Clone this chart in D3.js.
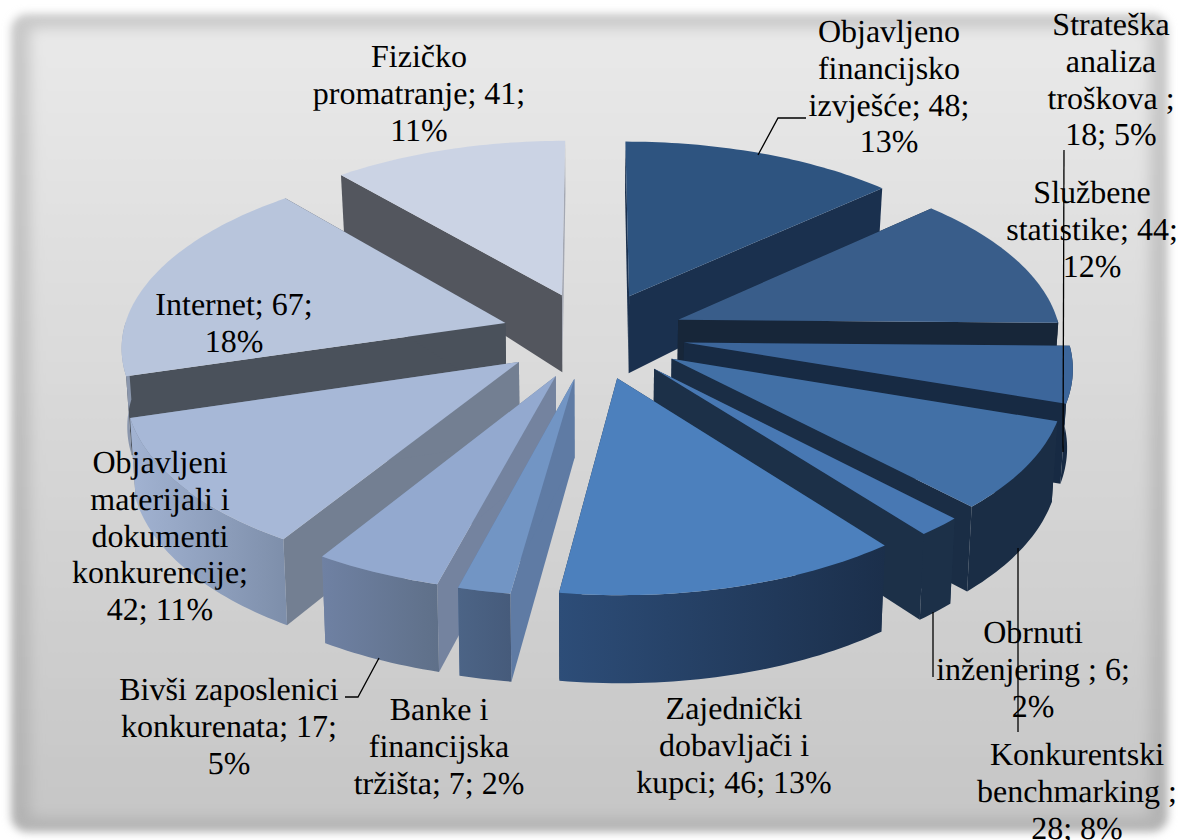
<!DOCTYPE html>
<html><head><meta charset="utf-8">
<script src="https://cdn.jsdelivr.net/npm/d3@7"></script>
<style>html,body{margin:0;padding:0;background:#fff}svg{display:block}</style></head>
<body><svg id="c" width="1180" height="840"></svg>
<script>
const categories = ["Objavljeno financijsko izvješće","Službene statistike","Strateška analiza troškova","Konkurentski benchmarking","Obrnuti inženjering","Zajednički dobavljači i kupci","Banke i financijska tržišta","Bivši zaposlenici konkurenata","Objavljeni materijali i dokumenti konkurencije","Internet","Fizičko promatranje"];
const values = [48,44,18,28,6,46,7,17,42,67,41];
const percents = [13,12,5,8,2,13,2,5,11,18,11];
const topColors = ["#2e5480","#395d8a","#3c669b","#4270a6","#4878b3","#4c80bd","#7295c4","#93a9cf","#a7b8d7","#b8c5dc","#cbd3e4"];
const sideColors = ["#1a304e","#172639","#172a43","#1a2d45","#1c3048","#1b304c","#5f7ba4","#74839f","#737f92","#4a515b","#53565e"];
const endColors = ["#1a304e","#172639","#172a43","#1a2d45","#1c3048","#1b304c","#5f7ba4","#74839f","#737f92","#4a515b","#a4a8b3"];
const wallLeft = ["#1a304e","#172639","#172a43","#1a2d45","#1c3048","#2d4d78","#4c6486","#6f81a3","#a2b3d2","#9aa6bc","#7b818e"];
const wallRight = ["#1a304e","#172639","#172a43","#1a2d45","#1c3048","#1b2f4b","#465b7b","#5f7089","#7e8fab","#8a96ac","#53565e"];
const labelLines = [
 ["Objavljeno","financijsko","izvješće; 48;","13%"],
 ["Službene","statistike; 44;","12%"],
 ["Strateška","analiza","troškova ;","18; 5%"],
 ["Konkurentski","benchmarking ;","28; 8%"],
 ["Obrnuti","inženjering ; 6;","2%"],
 ["Zajednički","dobavljači i","kupci; 46; 13%"],
 ["Banke i","financijska","tržišta; 7; 2%"],
 ["Bivši zaposlenici","konkurenata; 17;","5%"],
 ["Objavljeni","materijali i","dokumenti","konkurencije;","42; 11%"],
 ["Internet; 67;","18%"],
 ["Fizičko","promatranje; 41;","11%"]
];
// label anchors (centre x, first baseline y)
const labelX = [889,1092,1111,1077,1033,734,439,229,160,234,419];
const labelY = [42,203,35,765,643,719,720,700,473,315,67];
const leaders = [
 [[758,155],[778,118],[806,118]],
 [[1064,150],[1063,452]],
 [[1018,548],[1018,732]],
 [[933,612],[933,677]],
 [[379,658],[358,697],[345,697]]
];

const W=1180,H=840;
const svg=d3.select("#c");
const defs=svg.append("defs");
function vgrad(id,c0,c1){const g=defs.append("linearGradient").attr("id",id).attr("x1",0).attr("y1",0).attr("x2",0).attr("y2",1);
 g.append("stop").attr("offset",0).attr("stop-color",c0);g.append("stop").attr("offset",1).attr("stop-color",c1);}
vgrad("bg","#e9e9e9","#c6c6c6");
vgrad("bgo","#c9c9c9","#b3b3b3");
const f1=defs.append("filter").attr("id","b1").attr("x","-5%").attr("y","-5%").attr("width","110%").attr("height","110%");
f1.append("feGaussianBlur").attr("stdDeviation",4);
const f2=defs.append("filter").attr("id","b2").attr("x","-5%").attr("y","-5%").attr("width","110%").attr("height","110%");
f2.append("feGaussianBlur").attr("stdDeviation",7);
svg.append("rect").attr("x",11).attr("y",14).attr("width",1157).attr("height",818).attr("rx",16).attr("fill","url(#bgo)").attr("filter","url(#b1)");
svg.append("rect").attr("x",30).attr("y",28).attr("width",1120).attr("height",790).attr("rx",6).attr("fill","url(#bg)").attr("filter","url(#b2)");

// Perspective projection of the tilted pie
const cx=593,cy=335,A=383,B=181,p=0.116,explode=0.24;
const depth=d3.scaleLinear().domain([-1,-0.23,0.23,1.22]).range([57,77,79,88]);
function project(X,Y,z){
  const w=1-p*Y;
  return [cx+A*X/w*(1-0.012*z), cy+B*Y/w+z*depth(Y)];
}
const pie=d3.pie().sort(null).startAngle(0).endAngle(2*Math.PI);
const arcs=pie(values);
const line=d3.line();
const slices=arcs.map((a,i)=>{
  const mid=(a.startAngle+a.endAngle)/2;
  const ox=explode*Math.sin(mid), oy=-explode*Math.cos(mid);
  const n=Math.max(4,Math.ceil((a.endAngle-a.startAngle)/0.02));
  const angles=d3.range(n+1).map(k=>a.startAngle+(a.endAngle-a.startAngle)*k/n);
  const rim=angles.map(t=>[ox+Math.sin(t),oy-Math.cos(t)]);
  const front=angles.filter(t=>-Math.cos(t)>=-0.02).map(t=>[ox+Math.sin(t),oy-Math.cos(t)]);
  return {i,mid,ox,oy,rim,front,depthKey:-Math.cos(mid)};
});
const order=d3.sort(slices,s=>s.depthKey);
const g=svg.append("g");
order.forEach(s=>{
  const i=s.i;
  const top=s.rim.map(q=>project(q[0],q[1],0));
  const a0=project(s.ox,s.oy,0), a1=project(s.ox,s.oy,1);
  const face=pts=>line(pts)+"Z";
  const last=s.rim.length-1;
  const e0=s.rim[0], e1=s.rim[last];
  g.append("path").attr("d",face([a0,project(e0[0],e0[1],0),project(e0[0],e0[1],1),a1])).attr("fill",sideColors[i]);
  g.append("path").attr("d",face([a0,project(e1[0],e1[1],0),project(e1[0],e1[1],1),a1])).attr("fill",endColors[i]);
  if(s.front.length>1){
    const ft=s.front.map(q=>project(q[0],q[1],0));
    const fb=s.front.map(q=>project(q[0],q[1],1));
    const xs=d3.extent(ft,d=>d[0]);
    const gid="w"+i;
    const lg=defs.append("linearGradient").attr("id",gid).attr("gradientUnits","userSpaceOnUse")
      .attr("x1",xs[0]).attr("x2",xs[1]).attr("y1",0).attr("y2",0);
    lg.append("stop").attr("offset",0).attr("stop-color",wallLeft[i]);
    lg.append("stop").attr("offset",1).attr("stop-color",wallRight[i]);
    g.append("path").attr("d",face(ft.concat(fb.slice().reverse()))).attr("fill",`url(#${gid})`);
  }
  g.append("path").attr("d",face([a0].concat(top))).attr("fill",topColors[i]);
});

svg.append("g").selectAll("path").data(leaders).join("path")
 .attr("d",d=>line(d)).attr("fill","none").attr("stroke","#000").attr("stroke-width",1.3);

const t=svg.append("g").attr("font-family","'Liberation Serif','Times New Roman',serif").attr("font-size",32).attr("fill","#000").attr("text-anchor","middle").attr("text-rendering","geometricPrecision");
labelLines.forEach((ls,i)=>{
  const el=t.append("text").attr("data-category",categories[i]);
  ls.forEach((l,k)=>el.append("tspan").attr("x",labelX[i]).attr("y",labelY[i]+k*36.8).text(l));
});
</script></body></html>
